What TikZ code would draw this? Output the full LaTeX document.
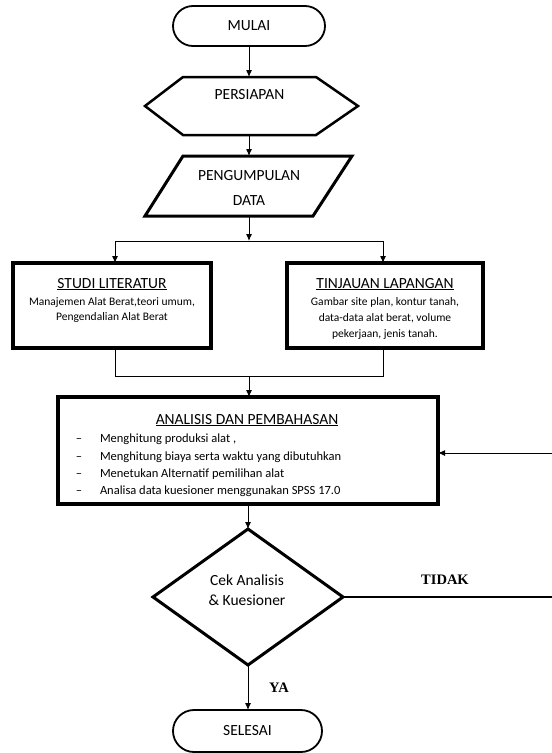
\documentclass[tikz,border=0pt]{standalone}
\usepackage{fontspec}
\setmainfont{Carlito}
\newfontfamily\answerfont{Liberation Serif}
\usetikzlibrary{positioning,shapes.misc,shapes.geometric,arrows.meta}

\begin{document}
\begin{tikzpicture}[x=1pt, y=-1pt]
\tikzset{ >={Latex[length=7pt,width=6pt]}, inner sep=0pt, outer sep=0pt,
  flow/.style={line width=1pt},
  bigtxt/.style={font=\fontsize{15.5}{18}\selectfont},
  smalltxt/.style={font=\fontsize{11.5}{14}\selectfont, anchor=base},
  listtxt/.style={font=\fontsize{12.5}{15}\selectfont, anchor=base west},
  boxline/.style={draw, line width=3.5pt},
  ends/.style={draw, rounded rectangle, line width=1.8pt, bigtxt},
  answer/.style={font=\answerfont\bfseries\fontsize{14.5}{17}\selectfont, anchor=base},
}

\useasboundingbox (0,0) rectangle (552,753);

%\draw [lightgray, dashed](0,0) grid [step=50pt] (552,753);

\node [ends, minimum width=152pt, minimum height=40pt] (M) at (249,26) {MULAI};

\node [minimum width=213pt, minimum height=58pt] (S) at (251.5,106) {};
\node [bigtxt] (St) at (249.5,95) {PERSIAPAN};
\draw [line width=2.5pt] (S.west) -- ([xshift=38pt]S.north west) -- ([xshift=-42pt]S.north east)
      -- (S.east) -- ([xshift=-42pt]S.south east) -- ([xshift=38pt]S.south west) -- cycle;

\node [minimum width=207pt, minimum height=60pt] (P) at (248.5,186) {};
\node [bigtxt, align=center, font=\fontsize{15.5}{25}\selectfont] (Pt) at (249,187.5) {PENGUMPULAN\\DATA};
\draw [line width=3pt] ([xshift=38pt]P.north west) -- (P.north east)
      -- ([xshift=-39pt]P.south east) -- (P.south west) -- cycle;

\node [boxline, minimum width=198pt, minimum height=85pt] (SL) at (112,305.5) {};
\node [boxline, minimum width=196pt, minimum height=85pt] (TL) at (385,305.5) {};

\node [bigtxt, anchor=base] (SLh) at (112,288) {\underline{STUDI LITERATUR}};
\node [smalltxt] (SL1) at (112,305) {Manajemen Alat Berat,teori umum,};
\node [smalltxt] (SL2) at (112,320) {Pengendalian Alat Berat};

\node [bigtxt, anchor=base] (TLh) at (385,288) {\underline{TINJAUAN LAPANGAN}};
\node [smalltxt] (TL1) at (385,305) {Gambar site plan, kontur tanah,};
\node [smalltxt] (TL2) at (385,321) {data-data alat berat, volume};
\node [smalltxt] (TL3) at (385,337) {pekerjaan, jenis tanah.};

\node [boxline, minimum width=380pt, minimum height=107pt] (AP) at (248,450.5) {};
\node [bigtxt, anchor=base] (APh) at (247,424) {\underline{ANALISIS DAN PEMBAHASAN}};
\node [listtxt, anchor=base] (d1) at (79,442) {--};
\node [listtxt, anchor=base] (d2) at (79,460) {--};
\node [listtxt, anchor=base] (d3) at (79,477) {--};
\node [listtxt, anchor=base] (d4) at (79,494) {--};
\node [listtxt] (A1) at (100,442) {Menghitung produksi alat ,};
\node [listtxt] (A2) at (100,460) {Menghitung biaya serta waktu yang dibutuhkan};
\node [listtxt] (A3) at (100,477) {Menetukan Alternatif pemilihan alat};
\node [listtxt] (A4) at (100,494) {Analisa data kuesioner menggunakan SPSS 17.0};

\node [draw, diamond, aspect=1.4, line width=3pt, minimum width=190pt, minimum height=136pt] (D) at (248,597) {};
\node [bigtxt, anchor=base] (Dt1) at (247,585) {Cek Analisis};
\node [bigtxt, anchor=base] (Dt2) at (247,605) {\& Kuesioner};

\node [ends, minimum width=149pt, minimum height=42pt] (E) at (247.5,731) {SELESAI};

\node [answer] (no) at (445,584) {TIDAK};
\node [answer] (yes) at (279,692) {YA};

% connectors
\coordinate (split)  at (249,241);
\coordinate (splitL) at (115,241);
\coordinate (splitR) at (383,241);
\coordinate (join)   at (249,376);
\coordinate (joinL)  at (115,376);
\coordinate (joinR)  at (383,376);
\coordinate (backB)  at (554,597);
\coordinate (backT)  at (554,453);

\draw [->, flow] (M) -- (M |- S.north);
\draw [->, flow] (S.south -| M) -- (M |- P.north);
\draw [->, flow] (P.south -| split) -- (split);

\draw [flow] (splitL) -- (splitR);
\draw [->, flow] (splitL) -- (splitL |- SL.north);
\draw [->, flow] (splitR) -- (splitR |- TL.north);

\draw [flow] (SL.south -| joinL) -- (joinL) -- (joinR) -- (TL.south -| joinR);
\draw [->, flow] (join) -- (join |- AP.north);

\draw [->, flow] (AP.south -| D) -- (D.north);
\draw [->, flow] (D.south) -- (D.south |- E.north);

\draw [flow, line width=1.3pt] (D.east) -- (backB) -- (backT);
\draw [->, flow] (backT) -- (AP.east |- backT);

\end{tikzpicture}
\end{document}
